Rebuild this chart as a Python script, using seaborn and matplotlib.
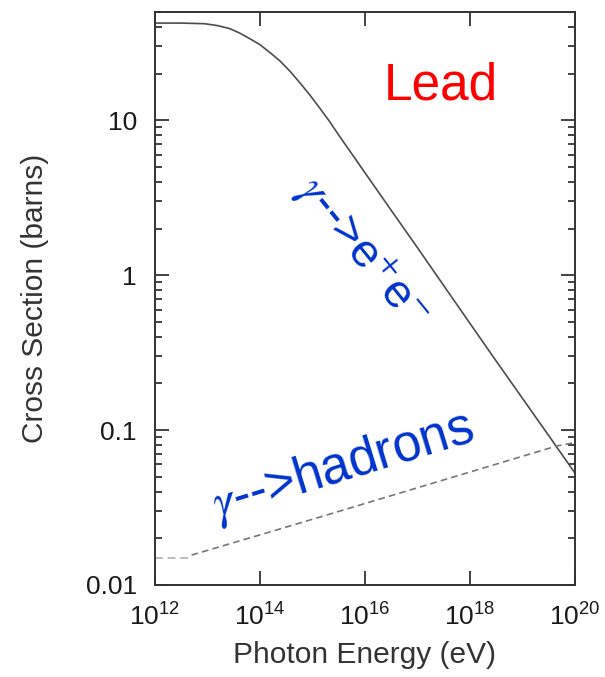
import numpy as np
import pandas as pd
import matplotlib
matplotlib.use("Agg")
import matplotlib.pyplot as plt
import seaborn as sns
from matplotlib.ticker import FixedLocator, FixedFormatter, LogLocator, NullFormatter, NullLocator

# Pair production (gamma -> e+ e-) cross section on lead, barns vs log10(E / eV)
pair_log_energy = [12.0, 12.5, 12.95, 13.2, 13.43, 13.62, 13.81, 14.0, 14.19, 14.38,
                   14.57, 14.76, 14.95, 15.14, 15.33, 15.5, 16.0, 16.5, 17.0, 17.5,
                   18.0, 18.5, 19.0, 19.5, 20.0]
pair_sigma = [42.4, 42.4, 42.0, 40.8, 39.0, 36.5, 33.6, 30.8, 27.4, 24.2,
              20.8, 17.5, 14.6, 12.0, 9.8, 8.05, 4.6, 2.63, 1.51, 0.86,
              0.49, 0.28, 0.161, 0.0925, 0.053]

# Photoproduction of hadrons: low-energy plateau and rising branch
hadron_flat_log_energy = [12.0, 12.65]
hadron_flat_sigma = [0.015, 0.015]
hadron_log_energy = [12.7, 14.76, 18.19, 19.66, 20.0]
hadron_sigma = [0.0156, 0.0251, 0.056, 0.079, 0.083]

x_ticks = [1e12, 1e14, 1e16, 1e18, 1e20]
x_tick_labels = [r"$10^{12}$", r"$10^{14}$", r"$10^{16}$", r"$10^{18}$", r"$10^{20}$"]
y_ticks = [0.01, 0.1, 1, 10]
y_tick_labels = ["0.01", "0.1", "1", "10"]

sns.set_style("ticks")
plt.rcParams["font.family"] = ["Liberation Sans", "DejaVu Sans"]
plt.rcParams["mathtext.fontset"] = "custom"
plt.rcParams["mathtext.rm"] = "Liberation Sans"
plt.rcParams["mathtext.it"] = "Liberation Sans:italic"
plt.rcParams["mathtext.bf"] = "Liberation Sans:bold"

pair = pd.DataFrame({"energy": np.power(10.0, pair_log_energy), "sigma": pair_sigma})
had_flat = pd.DataFrame({"energy": np.power(10.0, hadron_flat_log_energy), "sigma": hadron_flat_sigma})
had = pd.DataFrame({"energy": np.power(10.0, hadron_log_energy), "sigma": hadron_sigma})

fig = plt.figure(figsize=(6.05, 6.77), dpi=100)
ax = fig.add_axes([0.256, 0.1359, 0.694, 0.8464])

sns.lineplot(data=pair, x="energy", y="sigma", ax=ax, color="#4d4d4d",
             linewidth=1.2, estimator=None, sort=False)
sns.lineplot(data=had_flat, x="energy", y="sigma", ax=ax, color="#bbbbbb",
             linewidth=1.4, estimator=None, sort=False)
ax.lines[-1].set_dashes([4, 2.5])
sns.lineplot(data=had, x="energy", y="sigma", ax=ax, color="#777777",
             linewidth=1.2, estimator=None, sort=False)
ax.lines[-1].set_dashes([4, 2.5])

ax.set_xscale("log")
ax.set_yscale("log")
ax.set_xlim(x_ticks[0], x_ticks[-1])
ax.set_ylim(0.01, 50)

ax.xaxis.set_major_locator(FixedLocator(x_ticks))
ax.xaxis.set_major_formatter(FixedFormatter(x_tick_labels))
ax.xaxis.set_minor_locator(NullLocator())
ax.yaxis.set_major_locator(FixedLocator(y_ticks))
ax.yaxis.set_major_formatter(FixedFormatter(y_tick_labels))
ax.yaxis.set_minor_locator(LogLocator(base=10, subs=np.arange(2, 10)))
ax.yaxis.set_minor_formatter(NullFormatter())

ax.tick_params(which="both", direction="in", top=True, right=True,
               width=1.3, color="#333333", labelcolor="#1a1a1a")
ax.tick_params(which="major", length=10, labelsize=19)
ax.tick_params(which="minor", length=5)
ax.tick_params(axis="x", pad=13)
ax.tick_params(axis="y", pad=13)

for s in ax.spines.values():
    s.set_linewidth(1.4)
    s.set_color("#333333")

ax.set_xlabel("Photon Energy (eV)", fontsize=21.5, color="#333333")
ax.set_ylabel("Cross Section (barns)", fontsize=21.5, color="#333333")
ax.xaxis.set_label_coords(0.5, -0.097)
ax.yaxis.set_label_coords(-0.252, 0.5)

ax.text(0.68, 0.87, "Lead", transform=ax.transAxes, color="#ff0000",
        fontsize=37, ha="center", va="center")
ax.text(0.494, 0.581, r"$\gamma$-->e$^{\mathsf{+}}$e$^{\mathsf{-}}$", transform=ax.transAxes,
        color="#0033cc", fontsize=34, ha="center", va="center",
        rotation=-51, rotation_mode="anchor", math_fontfamily="stix")
ax.text(0.447, 0.206, r"$\gamma$-->hadrons", transform=ax.transAxes,
        color="#0033cc", fontsize=37, ha="center", va="center",
        rotation=17, rotation_mode="anchor", math_fontfamily="stix")

fig.savefig("out.png", dpi=100)
